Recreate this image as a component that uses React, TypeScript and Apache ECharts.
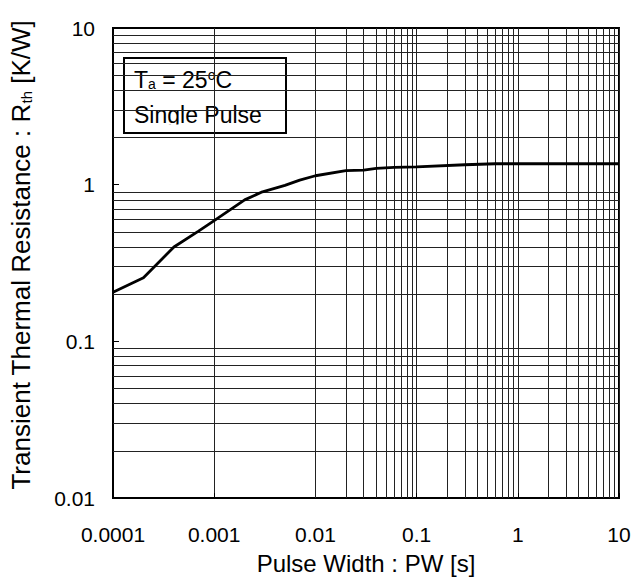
import React, { useEffect, useRef } from "react";
import * as echarts from "echarts";

const pulseWidth = [0.0001, 0.0002, 0.0004, 0.0007, 0.001, 0.002, 0.003, 0.005, 0.007, 0.01, 0.02, 0.03, 0.04, 0.06, 0.1, 0.3, 0.6, 1, 10];
const rth = [0.206, 0.255, 0.40, 0.505, 0.59, 0.80, 0.90, 0.99, 1.07, 1.14, 1.23, 1.24, 1.27, 1.29, 1.30, 1.34, 1.36, 1.36, 1.36];

const xTickLabels = ["0.0001", "0.001", "0.01", "0.1", "1", "10"];
const yTickLabels = ["0.01", "0.1", "1", "10"];
const xDecades = [0.0001, 0.001, 0.01, 0.1, 1];
const yDecades = [0.01, 0.1, 1];
const minorSteps = [2, 3, 4, 5, 6, 7, 8, 9];

const FONT = "'Liberation Sans', Arial, sans-serif";

export default function App() {
  const ref = useRef<HTMLDivElement>(null);
  useEffect(() => {
    if (!ref.current) return;
    const chart = echarts.init(ref.current, null, { renderer: "svg" });

    const xMinor: any[] = [];
    xDecades.forEach((d) => minorSteps.forEach((m) => xMinor.push({ xAxis: +(d * m).toPrecision(3) })));
    const yMinor: any[] = [];
    yDecades.forEach((d) => minorSteps.forEach((m) => yMinor.push({ yAxis: +(d * m).toPrecision(3) })));

    const gridLineStyle = { color: "#222", width: 1, type: "solid" as const };

    chart.setOption({
      animation: false,
      backgroundColor: "#fff",
      textStyle: { fontFamily: FONT, color: "#000" },
      grid: { left: 110, right: 16, top: 28, bottom: 89, show: true, borderColor: "#000", borderWidth: 2, backgroundColor: "transparent" },
      xAxis: {
        type: "log",
        logBase: 10,
        min: 0.0001,
        max: 10,
        name: "Pulse Width : PW [s]",
        nameLocation: "middle",
        nameGap: 53,
        nameTextStyle: { fontSize: 24, color: "#000", fontFamily: FONT },
        axisLine: { show: true, lineStyle: { color: "#000", width: 2 } },
        axisTick: { show: true, inside: true, length: 5, lineStyle: { color: "#000" } },
        axisLabel: {
          fontSize: 21,
          color: "#000",
          fontFamily: FONT,
          margin: 26,
          formatter: (v: number) => xTickLabels[Math.round(Math.log10(v)) + 4],
        },
        splitLine: { show: true, lineStyle: { color: "#222", width: 1 } },
        minorTick: { show: false },
      },
      yAxis: {
        type: "log",
        logBase: 10,
        min: 0.01,
        max: 10,
        name: "Transient Thermal Resistance : R{sub|th} [K/W]",
        nameLocation: "middle",
        nameGap: 79,
        nameTextStyle: {
          fontSize: 26,
          lineHeight: 26,
          color: "#000",
          fontFamily: FONT,
          padding: [0, 0, 0, 16],
          rich: { sub: { fontSize: 15, lineHeight: 8, verticalAlign: "bottom", fontFamily: FONT, color: "#000" } },
        },
        axisLine: { show: true, lineStyle: { color: "#000", width: 2 } },
        axisTick: { show: true, inside: true, length: 6, lineStyle: { color: "#000" } },
        axisLabel: {
          fontSize: 21,
          color: "#000",
          fontFamily: FONT,
          margin: 18,
          formatter: (v: number) => yTickLabels[Math.round(Math.log10(v)) + 2],
        },
        splitLine: { show: false },
      },
      series: [
        {
          type: "line",
          data: [],
          silent: true,
          markLine: {
            silent: true,
            symbol: "none",
            label: { show: false },
            lineStyle: gridLineStyle,
            animation: false,
            data: [...xMinor, ...yMinor],
          },
        },
        {
          type: "line",
          data: pulseWidth.map((x, i) => [x, rth[i]]),
          showSymbol: false,
          symbol: "none",
          smooth: false,
          lineStyle: { color: "#000", width: 2.8 },
          z: 5,
        },
      ],
      graphic: [
        {
          type: "group",
          left: 123,
          top: 57,
          z: 100,
          children: [
            {
              type: "rect",
              shape: { x: 0, y: 0, width: 162, height: 75 },
              style: { fill: "#fff", stroke: "#000", lineWidth: 2 },
            },
            {
              type: "text",
              x: 10,
              y: 10,
              style: {
                text: "{n|T}{s|a}{n| = 25}{o|o}{n|C}",
                fill: "#000",
                font: `23px ${FONT}`,
                rich: {
                  n: { fontSize: 23, fontFamily: FONT, fill: "#000", lineHeight: 23 },
                  s: { fontSize: 14, fontFamily: FONT, fill: "#000", verticalAlign: "bottom", lineHeight: 8 },
                  o: { fontSize: 14, fontFamily: FONT, fill: "#000", verticalAlign: "top", lineHeight: 10 },
                },
              },
            },
            {
              type: "text",
              x: 10,
              y: 45,
              style: { text: "Single Pulse", fill: "#000", font: `23px ${FONT}`, lineHeight: 23 },
            },
            {
              type: "rect",
              shape: { x: 1, y: 66.5, width: 160, height: 7.5 },
              style: { fill: "#fff" },
            },
          ],
        },
      ],
    });
    return () => chart.dispose();
  }, []);
  return <div ref={ref} style={{ position: "absolute", left: 0, top: 0, width: 635, height: 587 }} />;
}
